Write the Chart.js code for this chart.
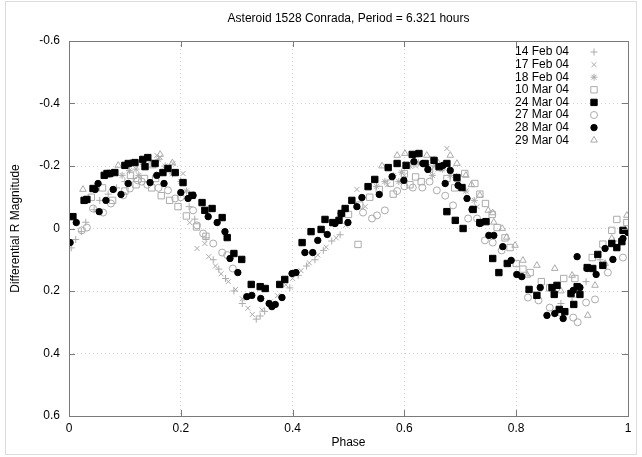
<!DOCTYPE html>
<html>
<head>
<meta charset="utf-8">
<script src="https://cdn.jsdelivr.net/npm/chart.js@4/dist/chart.umd.min.js"></script>
<style>
  html, body { margin: 0; padding: 0; background: #fff; }
  canvas { display: block; }
</style>
</head>
<body>
<canvas id="curve" width="642" height="457"></canvas>
<script>
// tekstit
const chartTitle = 'Asteroid 1528 Conrada, Period = 6.321 hours';
const xTitle = 'Phase';
const yTitle = 'Differential R Magnitude';
const phaseTicks = ['0', '0.2', '0.4', '0.6', '0.8', '1'];
const magTicks = ['-0.6', '-0.4', '-0.2', '0', '0.2', '0.4', '0.6'];

// havainnot: [vaihe, magnitudi]
const feb14 = [[0.004,0.062],[0.012,0.035],[0.022,0.01],[0.03,-0.02],[0.045,-0.06],[0.055,-0.09],[0.07,-0.11],[0.085,-0.13],[0.1,-0.15],[0.115,-0.16],[0.215,-0.07],[0.225,-0.03],[0.245,0.03],[0.258,0.1],[0.268,0.13],[0.28,0.16],[0.295,0.2],[0.31,0.24],[0.335,0.29],[0.342,0.28],[0.35,0.265],[0.365,0.25],[0.38,0.22],[0.395,0.19],[0.41,0.15],[0.425,0.12],[0.44,0.1],[0.455,0.07],[0.47,0.04],[0.485,0.02],[0.88,0.24],[0.9,0.22],[0.925,0.17],[0.95,0.1],[0.975,0.04],[0.995,0.0]];
const feb17 = [[0.157,-0.234],[0.163,-0.228],[0.186,-0.208],[0.204,-0.176],[0.216,-0.019],[0.229,0.064],[0.243,0.048],[0.25,0.09],[0.262,0.12],[0.272,0.145],[0.285,0.17],[0.298,0.195],[0.31,0.225],[0.32,0.255],[0.328,0.275],[0.345,0.26],[0.36,0.235],[0.373,0.215],[0.388,0.18],[0.4,0.16],[0.415,0.135],[0.43,0.11],[0.445,0.085],[0.46,0.06],[0.478,0.03],[0.495,-0.01],[0.515,-0.125],[0.53,-0.07],[0.57,-0.14],[0.6,-0.17],[0.62,-0.2],[0.65,-0.225],[0.676,-0.256],[0.66,-0.19],[0.69,-0.17],[0.71,-0.12],[0.73,-0.07]];
const feb18 = [[0.095,-0.17],[0.108,-0.185],[0.12,-0.19],[0.125,-0.17],[0.133,-0.205],[0.148,-0.21],[0.16,-0.22],[0.172,-0.2],[0.185,-0.175],[0.2,-0.15],[0.21,-0.12],[0.55,-0.135],[0.565,-0.15],[0.58,-0.17],[0.59,-0.15],[0.595,-0.18],[0.61,-0.2],[0.625,-0.21],[0.64,-0.205],[0.65,-0.17],[0.655,-0.2],[0.668,-0.19],[0.682,-0.17],[0.695,-0.15],[0.71,-0.12],[0.725,-0.09]];
const mar10 = [[0.04,-0.1],[0.06,-0.13],[0.078,-0.09],[0.1,-0.12],[0.11,-0.17],[0.12,-0.14],[0.135,-0.16],[0.148,-0.13],[0.155,-0.16],[0.165,-0.105],[0.18,-0.09],[0.195,-0.07],[0.21,-0.04],[0.228,-0.005],[0.245,0.025],[0.5,-0.045],[0.517,0.051],[0.52,-0.075],[0.538,-0.1],[0.555,-0.125],[0.575,-0.145],[0.58,-0.11],[0.6,-0.175],[0.61,-0.14],[0.62,-0.165],[0.63,-0.15],[0.645,-0.19],[0.665,-0.195],[0.676,-0.16],[0.69,-0.13],[0.708,-0.176],[0.726,-0.144],[0.735,-0.11],[0.745,-0.08],[0.757,-0.045],[0.766,-0.003],[0.78,0.03],[0.789,0.061],[0.8,0.112],[0.812,0.13],[0.825,0.141],[0.845,0.17],[0.86,0.19],[0.885,0.16],[0.905,0.16],[0.936,0.093],[0.955,0.05],[0.971,0.006],[0.98,-0.029],[0.998,-0.019]];
const mar24 = [[0.007,-0.038],[0.027,-0.09],[0.032,-0.093],[0.043,-0.128],[0.063,-0.17],[0.068,-0.176],[0.073,-0.176],[0.082,-0.179],[0.1,-0.202],[0.106,-0.208],[0.118,-0.211],[0.132,-0.221],[0.141,-0.227],[0.136,-0.198],[0.154,-0.208],[0.168,-0.179],[0.177,-0.192],[0.19,-0.179],[0.204,-0.147],[0.22,-0.106],[0.238,-0.083],[0.243,-0.058],[0.256,-0.064],[0.274,-0.035],[0.283,0.029],[0.295,0.08],[0.309,0.099],[0.326,0.179],[0.342,0.186],[0.351,0.192],[0.377,0.179],[0.386,0.163],[0.417,0.045],[0.433,0.01],[0.451,0.003],[0.458,-0.029],[0.472,-0.019],[0.483,-0.026],[0.487,-0.048],[0.494,-0.064],[0.506,-0.09],[0.535,-0.134],[0.547,-0.157],[0.571,-0.195],[0.587,-0.208],[0.603,-0.202],[0.614,-0.237],[0.626,-0.24],[0.637,-0.208],[0.653,-0.218],[0.662,-0.198],[0.676,-0.208],[0.694,-0.163],[0.703,-0.131],[0.676,-0.054],[0.691,-0.026],[0.705,0.0],[0.723,-0.061],[0.735,-0.019],[0.746,-0.022],[0.758,0.096],[0.769,0.141],[0.784,0.112],[0.823,0.195],[0.837,0.214],[0.864,0.189],[0.873,0.182],[0.868,0.211],[0.877,0.259],[0.887,0.266],[0.903,0.243],[0.898,0.208],[0.914,0.211],[0.909,0.186],[0.927,0.125],[0.937,0.128],[0.946,0.083],[0.955,0.118],[0.971,0.048],[0.98,0.061],[0.991,0.006],[0.989,0.042]];
const mar27 = [[0.023,0.006],[0.032,-0.003],[0.043,-0.064],[0.061,-0.051],[0.075,-0.08],[0.097,-0.106],[0.109,-0.128],[0.123,-0.154],[0.13,-0.15],[0.14,-0.14],[0.16,-0.13],[0.177,-0.122],[0.19,-0.096],[0.2,-0.1],[0.222,-0.058],[0.229,-0.01],[0.24,0.016],[0.258,0.048],[0.274,0.077],[0.283,0.085],[0.293,0.128],[0.526,-0.051],[0.542,-0.032],[0.551,-0.042],[0.565,-0.058],[0.587,-0.12],[0.6,-0.135],[0.615,-0.131],[0.632,-0.131],[0.645,-0.15],[0.658,-0.122],[0.673,-0.105],[0.687,-0.074],[0.714,-0.032],[0.73,-0.032],[0.744,0.038],[0.758,0.045],[0.774,0.07],[0.821,0.221],[0.84,0.23],[0.86,0.253],[0.88,0.27],[0.902,0.285],[0.91,0.3],[0.925,0.237],[0.941,0.227],[0.964,0.141],[0.991,0.093]];
const mar28 = [[0.002,0.045],[0.013,-0.019],[0.052,-0.144],[0.047,-0.125],[0.066,-0.09],[0.054,-0.054],[0.079,-0.125],[0.093,-0.109],[0.106,-0.144],[0.145,-0.147],[0.157,-0.17],[0.17,-0.144],[0.2,-0.115],[0.213,-0.096],[0.222,-0.106],[0.249,-0.038],[0.265,-0.019],[0.279,0.01],[0.288,0.096],[0.302,0.141],[0.318,0.218],[0.327,0.214],[0.343,0.224],[0.358,0.24],[0.363,0.25],[0.369,0.243],[0.381,0.221],[0.399,0.144],[0.406,0.141],[0.422,0.077],[0.436,0.077],[0.445,0.038],[0.462,0.019],[0.476,-0.016],[0.487,-0.048],[0.499,-0.019],[0.515,-0.07],[0.524,-0.099],[0.555,-0.109],[0.578,-0.166],[0.599,-0.154],[0.617,-0.214],[0.633,-0.208],[0.642,-0.189],[0.669,-0.202],[0.682,-0.186],[0.673,-0.144],[0.696,-0.138],[0.712,-0.096],[0.721,-0.061],[0.735,-0.016],[0.751,0.022],[0.76,0.022],[0.776,0.058],[0.791,0.102],[0.801,0.147],[0.81,0.154],[0.843,0.189],[0.855,0.278],[0.869,0.272],[0.884,0.288],[0.909,0.09],[0.902,0.198],[0.914,0.189],[0.927,0.128],[0.943,0.147],[0.959,0.064],[0.973,0.099],[0.991,0.032],[1.0,0.013]];
const mar29 = [[0.025,-0.125],[0.07,-0.17],[0.088,-0.202],[0.11,-0.21],[0.13,-0.22],[0.15,-0.2],[0.163,-0.237],[0.185,-0.21],[0.56,-0.2],[0.587,-0.234],[0.601,-0.24],[0.62,-0.235],[0.64,-0.234],[0.66,-0.21],[0.682,-0.234],[0.694,-0.208],[0.71,-0.17],[0.72,-0.14],[0.735,-0.106],[0.75,-0.058],[0.758,-0.05],[0.76,-0.02],[0.775,0.0],[0.783,0.028],[0.798,0.054],[0.812,0.102],[0.82,0.15],[0.837,0.118],[0.869,0.128],[0.88,0.2],[0.9,0.15],[0.928,0.278],[0.941,0.182],[0.959,0.112],[0.971,0.032],[0.998,-0.042]];

const GREY = '#ababab';
const BLACK = '#000';

// sarjat ja merkit
const series = [
  { label: '14 Feb 04', data: feb14, style: 'cross',    r: 3.5, fill: false, color: GREY },
  { label: '17 Feb 04', data: feb17, style: 'crossRot', r: 3.5, fill: false, color: GREY },
  { label: '18 Feb 04', data: feb18, style: 'star',     r: 3.5, fill: false, color: GREY },
  { label: '10 Mar 04', data: mar10, style: 'rect',     r: 4.5, fill: false, color: GREY },
  { label: '24 Mar 04', data: mar24, style: 'rect',     r: 4.5, fill: true,  color: BLACK },
  { label: '27 Mar 04', data: mar27, style: 'circle',   r: 3.5, fill: false, color: GREY },
  { label: '28 Mar 04', data: mar28, style: 'circle',   r: 3.2, fill: true,  color: BLACK },
  { label: '29 Mar 04', data: mar29, style: 'triangle', r: 3.8, fill: false, color: GREY },
];

const FONT = '"Liberation Sans", Arial, Helvetica, sans-serif';

// kehys, sisäänpäin osoittavat tikit, otsikko ja selite
const framePlugin = {
  id: 'frame',
  beforeDraw(chart) {
    const ctx = chart.ctx;
    ctx.save();
    ctx.fillStyle = '#fff';
    ctx.fillRect(0, 0, chart.width, chart.height);
    ctx.strokeStyle = '#dcdcdc';
    ctx.lineWidth = 1;
    ctx.strokeRect(5.5, 1.5, chart.width - 11, chart.height - 4);
    ctx.restore();
  },
  afterDraw(chart) {
    const { ctx, chartArea: a, scales } = chart;
    ctx.save();
    ctx.strokeStyle = '#7a7a7a';
    ctx.lineWidth = 1;
    ctx.beginPath();
    scales.x.ticks.forEach(t => {
      const px = Math.round(scales.x.getPixelForValue(t.value)) + 0.5;
      ctx.moveTo(px, a.bottom); ctx.lineTo(px, a.bottom - 6);
      ctx.moveTo(px, a.top); ctx.lineTo(px, a.top + 6);
    });
    scales.y.ticks.forEach(t => {
      const py = Math.round(scales.y.getPixelForValue(t.value)) + 0.5;
      ctx.moveTo(a.left, py); ctx.lineTo(a.left + 6, py);
      ctx.moveTo(a.right, py); ctx.lineTo(a.right - 6, py);
    });
    ctx.stroke();
    ctx.strokeRect(Math.round(a.left) + 0.5, Math.round(a.top) + 0.5,
      Math.round(a.right - a.left), Math.round(a.bottom - a.top));

    // otsikko
    ctx.fillStyle = '#000';
    ctx.font = '12px ' + FONT;
    ctx.textAlign = 'center';
    ctx.textBaseline = 'middle';
    ctx.fillText(chartTitle, (a.left + a.right) / 2, 19);

    // selite oikeassa yläkulmassa
    ctx.textAlign = 'right';
    chart.data.datasets.forEach((ds, i) => {
      const y = a.top + 11 + i * 12.6;
      ctx.fillStyle = '#000';
      ctx.fillText(ds.label, a.right - 59, y);
      ctx.strokeStyle = ds.borderColor;
      ctx.fillStyle = ds.backgroundColor;
      ctx.lineWidth = 1;
      Chart.helpers.drawPoint(ctx, {
        pointStyle: ds.pointStyle, radius: ds.pointRadius, rotation: 0, borderWidth: 1
      }, a.right - 34, y);
    });
    ctx.restore();
  }
};

new Chart(document.getElementById('curve'), {
  type: 'scatter',
  data: {
    datasets: series.map((s, i) => ({
      label: s.label,
      data: s.data.map(([x, y]) => ({ x, y })),
      pointStyle: s.style,
      pointRadius: s.r,
      pointHoverRadius: s.r,
      borderWidth: 1,
      borderColor: s.color,
      backgroundColor: s.fill ? s.color : 'rgba(0,0,0,0)',
      order: s.fill ? 0 : 1,
    }))
  },
  options: {
    responsive: false,
    devicePixelRatio: 1,
    animation: false,
    layout: { padding: { top: 41, right: 14, bottom: 0, left: 0 } },
    plugins: {
      legend: { display: false },
      title: { display: false },
      tooltip: { enabled: false }
    },
    scales: {
      x: {
        type: 'linear',
        min: 0, max: 1,
        afterFit: s => { s.height = 41; },
        ticks: {
          stepSize: 0.2,
          padding: 5,
          color: '#000',
          maxRotation: 0,
          font: { family: FONT, size: 12 },
          callback: v => phaseTicks[Math.round(v / 0.2)]
        },
        grid: { color: '#d2d2d2', drawTicks: false },
        border: { display: false, dash: [1, 3] },
        title: {
          display: true, text: xTitle, color: '#000',
          font: { family: FONT, size: 12 },
          padding: { top: 0, bottom: 7 }
        }
      },
      y: {
        type: 'linear',
        reverse: true,
        min: -0.6, max: 0.6,
        afterFit: s => { s.width = 69; },
        ticks: {
          stepSize: 0.2,
          padding: 9,
          color: '#000',
          font: { family: FONT, size: 12 },
          callback: v => magTicks[Math.round((v + 0.6) / 0.2)]
        },
        grid: { color: '#d2d2d2', drawTicks: false },
        border: { display: false, dash: [1, 3] },
        title: {
          display: true, text: yTitle, color: '#000',
          font: { family: FONT, size: 12 },
          padding: { top: 8, bottom: 0 }
        }
      }
    }
  },
  plugins: [framePlugin]
});
</script>
</body>
</html>
